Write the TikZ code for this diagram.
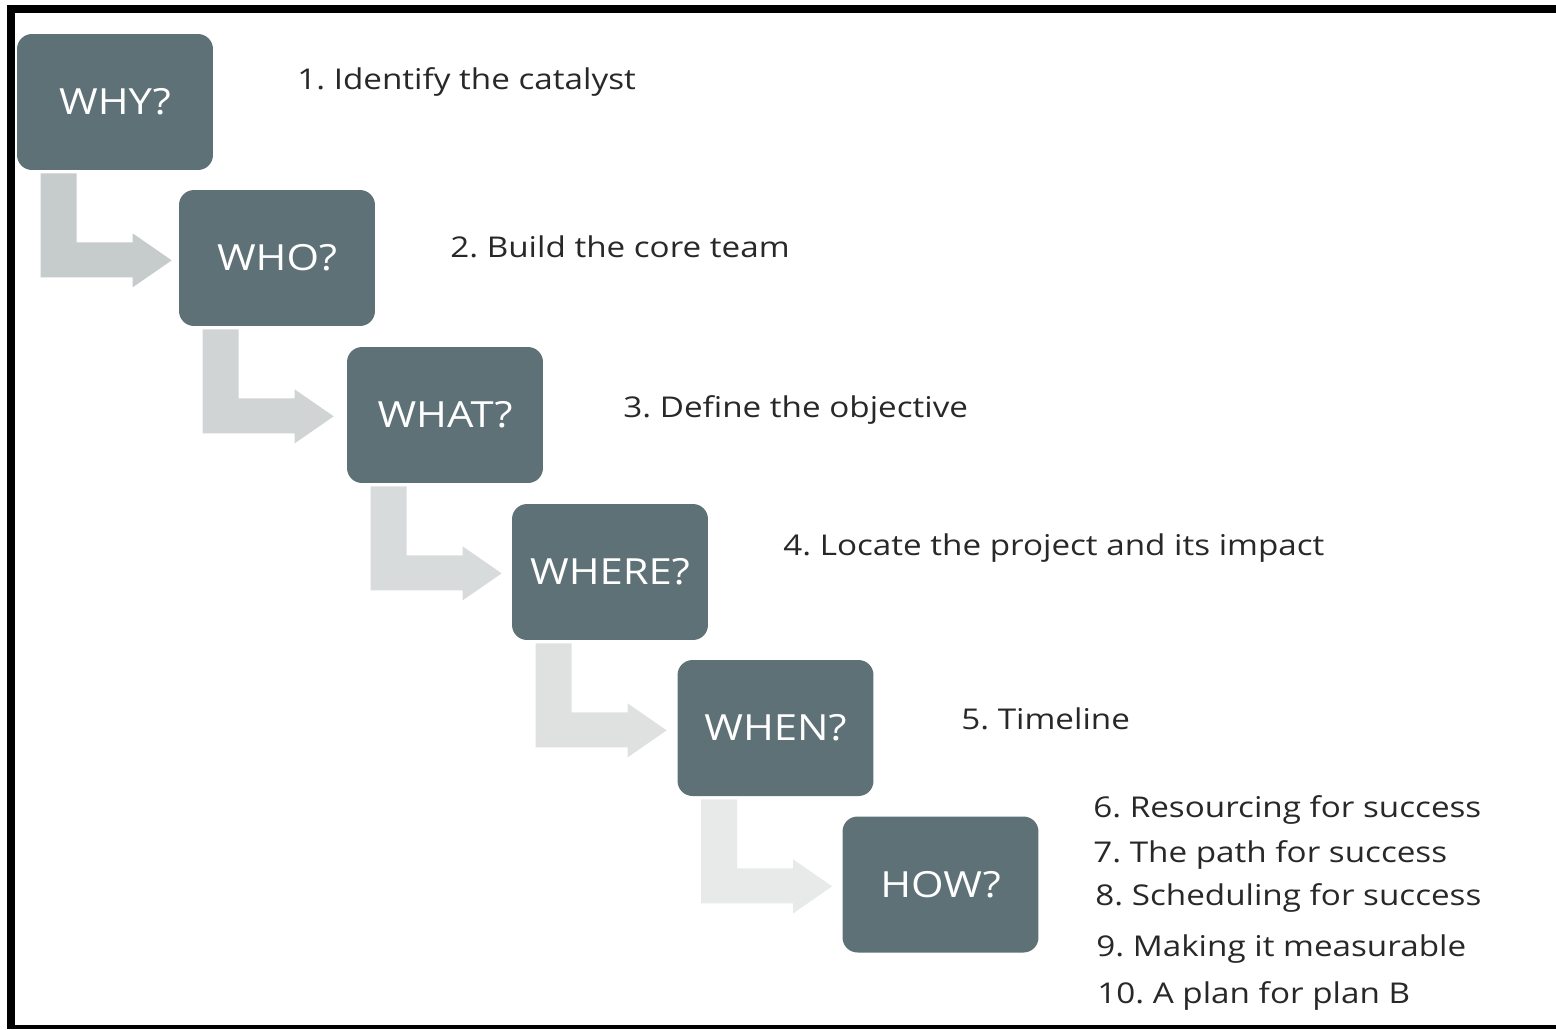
\documentclass[tikz,border=0pt]{standalone}
\usepackage{fontspec}
\setmainfont{Open Sans}[FakeStretch=1.16]
\usetikzlibrary{calc}
\frenchspacing

\definecolor{slate}{RGB}{94,113,118}
\definecolor{arrA}{RGB}{198,203,204}
\definecolor{arrB}{RGB}{208,212,213}
\definecolor{arrC}{RGB}{216,219,220}
\definecolor{arrD}{RGB}{223,225,225}
\definecolor{arrE}{RGB}{232,233,233}
\definecolor{ink}{RGB}{40,40,40}

\begin{document}
\begin{tikzpicture}[x=0.02cm, y=-0.02cm, line join=round,
  stepbox/.style={fill=slate, rounded corners=0.3cm, inner sep=0pt,
    minimum width=3.92cm, minimum height=2.72cm,
    text=white, font=\fontsize{20.5}{24}\selectfont},
  item/.style={anchor=base west, inner sep=0pt, text=ink,
    font=\fontsize{16.3}{19}\selectfont}]

\useasboundingbox (0,0) rectangle (1556,1029);

% ----------------------------
% FRAME
% ----------------------------
\fill[black] (7,5) rectangle (1556,13);
\fill[black] (7,5) rectangle (15,1029);
\fill[black] (7,1025) rectangle (1556,1029);

% ----------------------------
% QUESTION BOXES
% ----------------------------
\node[stepbox] (why)   at (115,102)   {WHY?};
\node[stepbox] (who)   at (277,258)   {WHO?};
\node[stepbox] (what)  at (445,415)   {WHAT?};
\node[stepbox] (where) at (610,572)   {WHERE?};
\node[stepbox] (when)  at (775.5,728) {WHEN?};
\node[stepbox] (how)   at (940.5,884.5) {HOW?};

% ----------------------------
% BENT ARROWS (stem down, head right)
% ----------------------------
\foreach \src/\col in {why/arrA, who/arrB, what/arrC, where/arrD, when/arrE} {
  \fill[\col] ($(\src.south west)+(24,3)$) -- ++(36,0) -- ++(0,69)
    -- ++(56,0) -- ++(0,-9) -- ++(39,27) -- ++(-39,27) -- ++(0,-10)
    -- ++(-92,0) -- cycle;
}

% ----------------------------
% STEPS
% ----------------------------
\node[item] (item1)  at (297,89)   {1. Identify the catalyst};
\node[item] (item2)  at (450,257)  {2. Build the core team};
\node[item] (item3)  at (623,417)  {3. Define the objective};
\node[item] (item4)  at (783,555)  {4. Locate the project and its impact};
\node[item] (item5)  at (961,729)  {5. Timeline};
\node[item] (item6)  at (1093,817) {6. Resourcing for success};
\node[item] (item7)  at (1093,862) {7. The path for success};
\node[item] (item8)  at (1095,905) {8. Scheduling for success};
\node[item] (item9)  at (1096,956) {9. Making it measurable};
\node[item] (item10) at (1097,1003) {10. A plan for plan B};

\end{tikzpicture}
\end{document}
